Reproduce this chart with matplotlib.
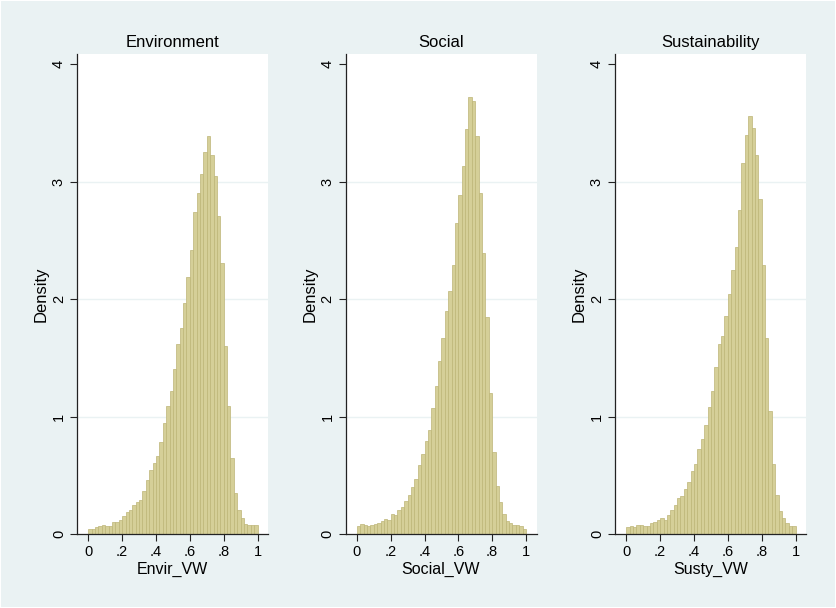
import numpy as np
import matplotlib
matplotlib.use("Agg")
import matplotlib.pyplot as plt

plt.rcParams['font.family'] = ['Liberation Sans', 'DejaVu Sans']

titles = ["Environment", "Social", "Sustainability"]
xlabels = ["Envir_VW", "Social_VW", "Susty_VW"]
bin_edges = np.linspace(0, 1, 51)

envir_density = [0.045, 0.04, 0.057, 0.065, 0.077, 0.068, 0.071, 0.10, 0.105, 0.116,
                 0.15, 0.185, 0.207, 0.247, 0.276, 0.293, 0.37, 0.46, 0.545, 0.608,
                 0.665, 0.784, 0.946, 1.088, 1.219, 1.406, 1.619, 1.756, 1.966, 2.19,
                 2.42, 2.74, 2.90, 3.07, 3.25, 3.39, 3.23, 3.05, 2.71, 2.31,
                 1.605, 1.094, 0.645, 0.347, 0.205, 0.136, 0.085, 0.08, 0.08, 0.08]
social_density = [0.065, 0.085, 0.074, 0.071, 0.08, 0.085, 0.097, 0.108, 0.125, 0.116,
                  0.168, 0.162, 0.207, 0.227, 0.284, 0.335, 0.403, 0.469, 0.59, 0.685,
                  0.795, 0.886, 1.074, 1.259, 1.477, 1.67, 1.898, 2.07, 2.29, 2.65,
                  2.89, 3.13, 3.45, 3.72, 3.69, 3.39, 2.90, 2.395, 1.85, 1.205,
                  0.70, 0.41, 0.276, 0.173, 0.114, 0.091, 0.08, 0.08, 0.071, 0.045]
susty_density = [0.06, 0.071, 0.06, 0.08, 0.08, 0.068, 0.068, 0.091, 0.102, 0.117,
                 0.139, 0.122, 0.159, 0.202, 0.245, 0.31, 0.324, 0.381, 0.441, 0.535,
                 0.60, 0.723, 0.805, 0.93, 1.078, 1.215, 1.425, 1.616, 1.69, 1.86,
                 2.04, 2.245, 2.447, 2.76, 3.16, 3.40, 3.56, 3.46, 3.23, 2.85,
                 2.29, 1.67, 1.044, 0.60, 0.333, 0.193, 0.137, 0.091, 0.071, 0.065]
series = [envir_density, social_density, susty_density]

xticks = [0, 0.2, 0.4, 0.6, 0.8, 1.0]
xticklabels = ["0", ".2", ".4", ".6", ".8", "1"]
yticks = [0, 1, 2, 3, 4]
yticklabels = ["0", "1", "2", "3", "4"]

bg = "#EAF2F3"
fig = plt.figure(figsize=(8.36, 6.08), dpi=100, facecolor=bg)

lefts = [77, 345.5, 615]
W, H = 836, 608
for i in range(3):
    ax = fig.add_axes([lefts[i] / W, (H - 534) / H, 191 / W, 480 / H])
    ax.set_facecolor("white")
    widths = np.diff(bin_edges)
    ax.bar(bin_edges[:-1], series[i], width=widths, align='edge',
           color="#D5CF98", edgecolor="#BDB577", linewidth=0.5, zorder=2)
    ax.set_xlim(-0.067, 1.062)
    ax.set_ylim(0, 4.088)
    for g in [1, 2, 3]:
        ax.axhline(g, color=bg, linewidth=1.0, zorder=1)
    ax.spines['top'].set_visible(False)
    ax.spines['right'].set_visible(False)
    ax.spines['left'].set_color("#222222")
    ax.spines['bottom'].set_color("#222222")
    ax.spines['left'].set_linewidth(0.9)
    ax.spines['bottom'].set_linewidth(0.9)
    ax.set_xticks(xticks)
    ax.set_xticklabels(xticklabels, fontsize=10.5)
    ax.set_yticks(yticks)
    ax.set_yticklabels(yticklabels, fontsize=10.5, rotation=90, va='center')
    ax.tick_params(axis='both', length=5, width=0.8, color="#222222", pad=3)
    ax.set_title(titles[i], fontsize=12, pad=5)
    ax.set_xlabel(xlabels[i], fontsize=11.5, labelpad=2)
    ax.set_ylabel("Density", fontsize=12, labelpad=2)

fig.patches.append(plt.Rectangle((0, 0), 1, 1, transform=fig.transFigure,
                                 fill=False, edgecolor="white", linewidth=1.5))
fig.savefig("out.png", dpi=100, facecolor=bg)
